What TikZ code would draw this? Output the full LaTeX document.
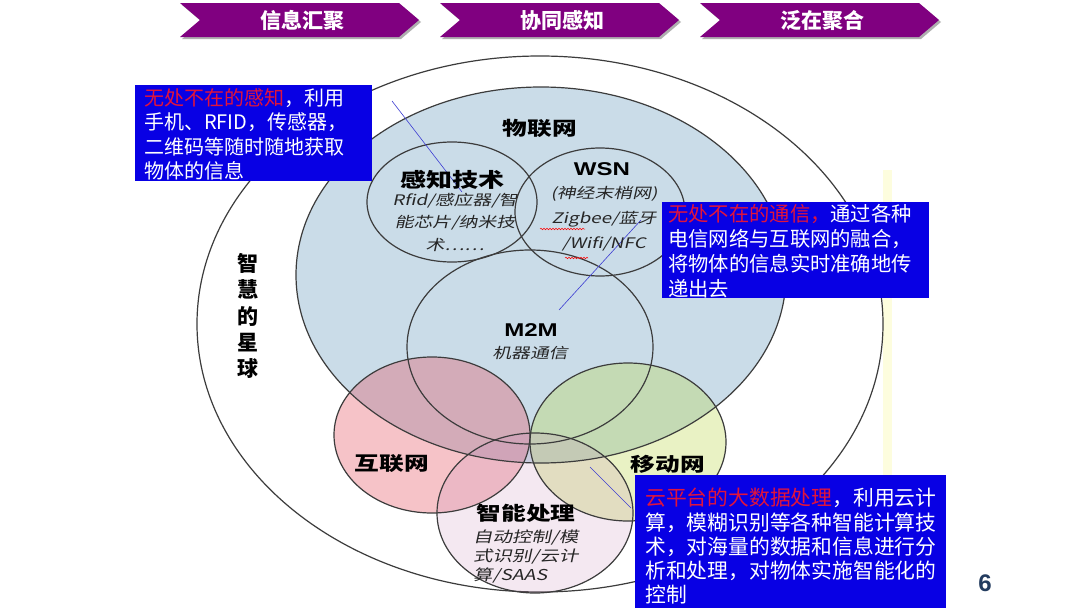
\documentclass[tikz,border=0pt]{standalone}
\usepackage{fontspec}
\setmainfont{Liberation Sans}
\newfontfamily\cjk{Noto Sans CJK SC}
\newfontfamily\cjkw[FakeStretch=1.3]{Noto Sans CJK SC}
\newfontfamily\cjkwit[FakeStretch=1.3,FakeSlant=0.22]{Noto Sans CJK SC}
\newfontfamily\arw[FakeStretch=1.3]{Liberation Sans}
\usetikzlibrary{decorations.pathmorphing}
\definecolor{banpurple}{RGB}{128,0,128}
\definecolor{bangray}{RGB}{175,175,175}
\definecolor{boxblue}{RGB}{8,0,228}
\definecolor{hotred}{RGB}{225,20,60}
\definecolor{iotblue}{RGB}{202,220,232}
\definecolor{edgegray}{RGB}{60,60,60}
\definecolor{pinkc}{RGB}{230,70,85}
\definecolor{greenc}{RGB}{185,215,60}
\definecolor{lavc}{RGB}{200,140,185}
\definecolor{pagenum}{RGB}{35,60,95}
\definecolor{callout}{RGB}{60,60,210}
\definecolor{stripe}{RGB}{253,253,222}
\begin{document}
\begin{tikzpicture}[x=1pt,y=-1pt,
  ring/.style={draw=edgegray, line width=1.2pt},
  bantext/.style={text=white, inner sep=0, font=\cjk\bfseries\fontsize{21}{21}\selectfont},
  ctitle/.style={inner sep=0, font=\cjkw\bfseries\fontsize{19}{22}\selectfont},
  ltitle/.style={inner sep=0, font=\arw\bfseries\fontsize{18.5}{22}\selectfont},
  csub/.style={inner sep=0, align=center, text=black!85, font=\cjkwit\fontsize{14.5}{22.5}\selectfont},
  bluebox/.style={fill=boxblue, inner sep=0, anchor=north west},
  boxtxt/.style={text=white, inner sep=0, anchor=north west, align=left},
  callline/.style={draw=callout, line width=0.6pt},
  wavy/.style={draw=red, line width=0.5pt, decorate, decoration={snake, amplitude=0.8pt, segment length=3pt}}
]
\useasboundingbox (0,0) rectangle (1080,608);
\fill[white] (0,0) rectangle (1080,608);

% banner chevrons
\foreach \dx/\txt/\nm in {0/信息汇聚/ban1, 260/协同感知/ban2, 520/泛在聚合/ban3}{
  \fill[bangray] ({182+\dx},5) -- ({401+\dx},5) -- ({421+\dx},22) -- ({401+\dx},39) -- ({182+\dx},39) -- ({202+\dx},22) -- cycle;
  \fill[banpurple] ({180+\dx},3) -- ({399+\dx},3) -- ({419+\dx},20) -- ({399+\dx},37) -- ({180+\dx},37) -- ({200+\dx},20) -- cycle;
  \node[bantext] (\nm) at ({302+\dx},20) {\txt};
}

% faint stripe
\fill[stripe] (883,170) rectangle (892,475);

% outer planet ellipse
\draw[ring, fill=white] (540,324) ellipse (343pt and 268pt);
% IoT ellipse
\fill[iotblue] (541,275) ellipse (245pt and 188pt);
% translucent circles
\fill[pinkc, fill opacity=0.32] (432,435) ellipse (98pt and 78pt);
\fill[greenc, fill opacity=0.3] (628,442) ellipse (98pt and 79pt);
\fill[lavc, fill opacity=0.2] (535,513) ellipse (98pt and 80pt);
% strokes
\draw[ring] (541,275) ellipse (245pt and 188pt);
\draw[ring] (452,202) ellipse (85pt and 60pt);
\draw[ring] (600,212) ellipse (85pt and 64pt);
\draw[ring] (530,347) ellipse (123pt and 97pt);
\draw[ring] (432,435) ellipse (98pt and 78pt);
\draw[ring] (628,442) ellipse (98pt and 79pt);
\draw[ring] (535,513) ellipse (98pt and 80pt);

% callout lines
\coordinate (c1a) at (392,101); \coordinate (c1b) at (462,192);
\coordinate (c2a) at (641,220); \coordinate (c2b) at (559,310);
\coordinate (c3a) at (590,467); \coordinate (c3b) at (631,508);
\draw[callline] (c1a) -- (c1b);
\draw[callline] (c2a) -- (c2b);
\draw[callline] (c3a) -- (c3b);

% labels in circles
\node[ctitle] (iot) at (540,128) {物联网};
\node[ctitle, font=\cjkw\bfseries\fontsize{20}{22}\selectfont] (perc) at (452,180) {感知技术};
\node[csub] (percsub) at (455,222) {Rfid/感应器/智\\能芯片/纳米技\\术……};
\node[ltitle] (wsn) at (602,169) {WSN};
\node[csub, font=\cjkwit\fontsize{14.5}{25}\selectfont] (wsnsub) at (604,219) {(神经末梢网)\\Zigbee/蓝牙\\/Wifi/NFC};
\coordinate (w1a) at (540,229); \coordinate (w1b) at (585,229);
\coordinate (w2a) at (565,258); \coordinate (w2b) at (588,258);
\draw[wavy] (w1a) -- (w1b);
\draw[wavy] (w2a) -- (w2b);
\node[ltitle] (m2m) at (531,330) {M2M};
\node[csub] (m2msub) at (530,353) {机器通信};
\node[ctitle] (inet) at (392,464) {互联网};
\node[ctitle] (mobile) at (668,464) {移动网};
\node[ctitle] (smart) at (526,513) {智能处理};
\node[csub, align=left, anchor=west, font=\cjkwit\fontsize{15}{19}\selectfont] (smartsub) at (473,557) {自动控制/模\\式识别/云计\\算/SAAS};
\node[inner sep=0, align=center, font=\cjk\bfseries\fontsize{21}{26.3}\selectfont] (planet) at (248,316) {智\\慧\\的\\星\\球};

% text boxes
\node[bluebox, minimum width=237pt, minimum height=96pt] (lbox) at (135,85) {};
\node[boxtxt, font=\cjk\fontsize{20}{24.5}\selectfont] (ltxt) at (144,88)
  {{\color{hotred}无处不在的感知}，利用\\手机、RFID，传感器，\\二维码等随时随地获取\\物体的信息};
\node[bluebox, minimum width=267pt, minimum height=96pt] (rbox) at (662,202) {};
\node[boxtxt, font=\cjk\fontsize{20.3}{25}\selectfont] (rtxt) at (668,204)
  {{\color{hotred}无处不在的通信，}通过各种\\电信网络与互联网的融合，\\将物体的信息实时准确地传\\递出去};
\node[bluebox, minimum width=311pt, minimum height=140pt] (bbox) at (635,475) {};
\node[boxtxt, font=\cjk\fontsize{20.8}{24.3}\selectfont] (btxt) at (645,488)
  {{\color{hotred}云平台的大数据处理}，利用云计\\算，模糊识别等各种智能计算技\\术，对海量的数据和信息进行分\\析和处理，对物体实施智能化的\\控制};

% page number
\node[inner sep=0, text=pagenum, font=\bfseries\fontsize{24}{24}\selectfont] (pnum) at (985,583) {6};
\end{tikzpicture}
\end{document}
